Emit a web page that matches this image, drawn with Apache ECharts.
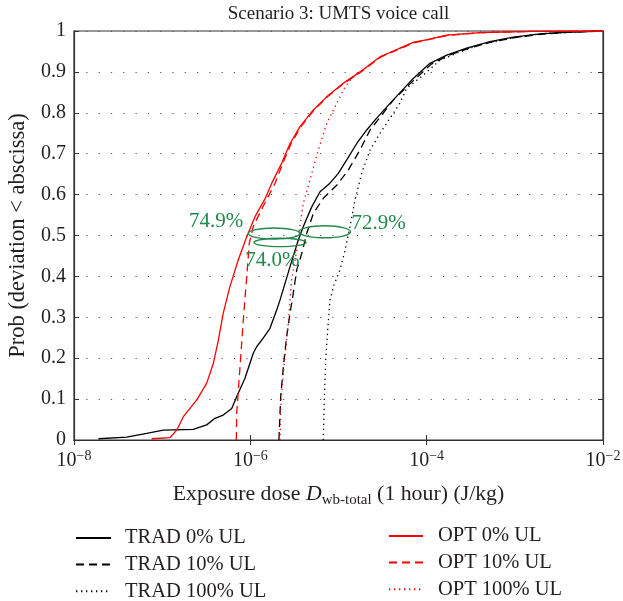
<!DOCTYPE html>
<html>
<head>
<meta charset="utf-8">
<script src="https://cdn.jsdelivr.net/npm/echarts@6/dist/echarts.min.js"></script>
<style>
html,body{margin:0;padding:0;background:#fff;}
#chart{width:623px;height:601px;}
</style>
</head>
<body>
<div id="chart"></div>
<script>
// ---- data: [exposure dose (J/kg), cumulative probability] ----
const trad0 = [[1.89e-8,0.003],[3.96e-8,0.007],[6.68e-8,0.016],[1.03e-7,0.024],[2.25e-7,0.026],[3.20e-7,0.037],[3.97e-7,0.053],[4.93e-7,0.061],[6.15e-7,0.077],[7.0e-7,0.106],[8.69e-7,0.151],[1.08e-6,0.212],[1.18e-6,0.228],[1.40e-6,0.249],[1.67e-6,0.273],[1.99e-6,0.318],[2.17e-6,0.342],[2.82e-6,0.424],[3.50e-6,0.489],[3.99e-6,0.522],[4.97e-6,0.570],[6.17e-6,0.607],[8.0e-6,0.628],[9.95e-6,0.652],[1.24e-5,0.685],[1.61e-5,0.725],[2.09e-5,0.758],[2.71e-5,0.787],[3.84e-5,0.823],[6.76e-5,0.880],[1.09e-4,0.921],[1.69e-4,0.941],[2.84e-4,0.958],[5.22e-4,0.974],[9.6e-4,0.985],[1.93e-3,0.993],[3.87e-3,0.997],[1e-2,1.0]];
const trad10 = [[2.11e-6,0],[2.21e-6,0.106],[2.37e-6,0.179],[2.58e-6,0.253],[2.82e-6,0.310],[3.07e-6,0.359],[3.36e-6,0.416],[3.83e-6,0.456],[4.36e-6,0.505],[5.18e-6,0.554],[6.73e-6,0.591],[9.55e-6,0.623],[1.29e-5,0.660],[1.75e-5,0.709],[2.28e-5,0.758],[3.22e-5,0.799],[4.18e-5,0.831],[7.0e-5,0.878],[1.13e-4,0.919],[1.75e-4,0.940],[2.95e-4,0.957],[5.4e-4,0.973],[1.0e-3,0.984],[2.0e-3,0.992],[4.0e-3,0.997],[1e-2,1.0]];
const trad100 = [[6.72e-6,0],[6.90e-6,0.098],[7.16e-6,0.196],[7.54e-6,0.269],[8.0e-6,0.342],[8.89e-6,0.379],[1.04e-5,0.416],[1.19e-5,0.465],[1.35e-5,0.522],[1.54e-5,0.587],[1.83e-5,0.652],[2.28e-5,0.709],[2.96e-5,0.750],[4.18e-5,0.799],[4.98e-5,0.824],[5.93e-5,0.860],[9.16e-5,0.892],[1.42e-4,0.929],[2.39e-4,0.949],[4.03e-4,0.966],[9.53e-4,0.983],[1.93e-3,0.993],[3.9e-3,0.997],[1e-2,1.0]];
const opt0 = [[7.6e-8,0.003],[1.23e-7,0.006],[1.46e-7,0.024],[1.74e-7,0.057],[2.47e-7,0.098],[3.20e-7,0.139],[3.80e-7,0.187],[4.34e-7,0.244],[4.93e-7,0.310],[5.87e-7,0.375],[7.29e-7,0.440],[9.1e-7,0.497],[1.13e-6,0.546],[1.47e-6,0.590],[1.75e-6,0.628],[2.27e-6,0.677],[2.82e-6,0.725],[3.66e-6,0.766],[5.18e-6,0.807],[7.35e-6,0.839],[1.13e-5,0.872],[1.75e-5,0.900],[2.96e-5,0.937],[7.05e-5,0.972],[1.09e-4,0.980],[1.69e-4,0.990],[4.03e-4,0.996],[1.49e-3,0.999],[1e-2,1.0]];
const opt10 = [[6.94e-7,0],[7.0e-7,0.065],[7.64e-7,0.179],[8.32e-7,0.293],[9.1e-7,0.399],[9.73e-7,0.481],[1.08e-6,0.522],[1.35e-6,0.565],[1.55e-6,0.590],[1.91e-6,0.628],[2.34e-6,0.677],[2.9e-6,0.725],[3.75e-6,0.766],[5.3e-6,0.807],[7.5e-6,0.839],[1.15e-5,0.872],[1.8e-5,0.900],[3.0e-5,0.936],[7.1e-5,0.971],[1.1e-4,0.980],[1.7e-4,0.989],[4.1e-4,0.996],[1.5e-3,0.999],[1e-2,1.0]];
const opt100 = [[2.17e-6,0],[2.23e-6,0.098],[2.37e-6,0.163],[2.47e-6,0.204],[2.65e-6,0.269],[2.82e-6,0.342],[2.94e-6,0.391],[3.36e-6,0.465],[3.56e-6,0.506],[3.83e-6,0.554],[3.99e-6,0.579],[4.75e-6,0.636],[5.90e-6,0.709],[7.35e-6,0.774],[9.55e-6,0.823],[1.19e-5,0.864],[1.42e-5,0.885],[1.8e-5,0.901],[3.0e-5,0.937],[7.05e-5,0.972],[1.1e-4,0.980],[1.7e-4,0.990],[4.0e-4,0.996],[1.5e-3,0.999],[1e-2,1.0]];

const seriesNames = ['TRAD 0% UL','TRAD 10% UL','TRAD 100% UL','OPT 0% UL','OPT 10% UL','OPT 100% UL'];

// annotations: dose reduction ellipses at ~50th percentile
const annotLeft = [9.48e-7, 1.10e-6, 3.56e-6];
const annotRight = [3.66e-6, 4.28e-6, 1.37e-5];
const annotProb = [0.505, 0.483, 0.509];
const annotLabel = ['74.9%', '74.0%', '72.9%'];

// tick labels
const xTickValues = [1e-8, 1e-6, 1e-4, 1e-2];
const xTickSup = ['\u22128', '\u22126', '\u22124', '\u22122'];
const yTickLabels = ['0','0.1','0.2','0.3','0.4','0.5','0.6','0.7','0.8','0.9','1'];

const FONT = '"Liberation Serif", "DejaVu Serif", serif';
const TXT = '#231f20';
const GREEN = '#1f8a4a';

const chart = echarts.init(document.getElementById('chart'), null, {renderer: 'canvas'});

function lineSeries(name, data, color, type) {
  return {
    name: name, type: 'line', data: data, symbol: 'none', showSymbol: false,
    xAxisIndex: 0, yAxisIndex: 0, clip: true, silent: true,
    lineStyle: {color: color, width: 1.3, type: type},
    itemStyle: {color: color}
  };
}

const ellipseRy = [5.5, 4.2, 6];
const annotData = annotLeft.map((l, i) => [l, annotRight[i], annotProb[i], i]);

function renderAnnot(params, api) {
  const i = api.value(3);
  const p1 = api.coord([api.value(0), api.value(2)]);
  const p2 = api.coord([api.value(1), api.value(2)]);
  const cx = (p1[0] + p2[0]) / 2, cy = p1[1];
  const rx = (p2[0] - p1[0]) / 2, ry = ellipseRy[i];
  let tx, ty, align;
  if (i === 0) { tx = p1[0] - 5; ty = cy - 12; align = 'right'; }
  else if (i === 1) { tx = cx - 7.5; ty = cy + 18.5; align = 'center'; }
  else { tx = p2[0] + 1; ty = cy - 8.7; align = 'left'; }
  return {
    type: 'group',
    children: [
      {type: 'ellipse', shape: {cx: cx, cy: cy, rx: rx, ry: ry},
       style: {fill: 'none', stroke: GREEN, lineWidth: 1.4}},
      {type: 'text', x: tx, y: ty,
       style: {text: annotLabel[i], fill: GREEN, font: '21px ' + FONT,
               textAlign: align, textVerticalAlign: 'middle'}}
    ]
  };
}

const xLabelFmt = function (v) {
  let k = -1;
  xTickValues.forEach((t, j) => { if (Math.abs(Math.log10(v) - Math.log10(t)) < 0.01) k = j; });
  if (k < 0) return '';
  return '{b|10}{s|' + xTickSup[k] + '}';
};

const legendCommon = {
  orient: 'vertical', itemHeight: 18, itemGap: 5.6, padding: 0, selectedMode: false,
  itemStyle: {opacity: 0}, height: 80
};

const option = {
  animation: false,
  backgroundColor: '#fff',
  textStyle: {fontFamily: FONT, color: TXT},
  grid: {left: 74, top: 31, right: 20, bottom: 161, containLabel: false, outerBoundsMode: 'none',
         show: true, borderColor: '#333', borderWidth: 1.2, backgroundColor: 'transparent'},
  graphic: [
    {type: 'text', x: 338.5, y: 14, style: {text: 'Scenario 3: UMTS voice call', fill: TXT, font: '19px ' + FONT, textAlign: 'center', textVerticalAlign: 'middle'}}
  ],
  legend: [
    Object.assign({}, legendCommon, {data: seriesNames.slice(0, 3), left: 75, top: 527.5, itemWidth: 35,
     textStyle: {fontFamily: FONT, fontSize: 20.5, color: TXT, lineHeight: 18, padding: [0, 0, 0, 9]}}),
    Object.assign({}, legendCommon, {data: seriesNames.slice(3), left: 388, top: 525.5, itemWidth: 34,
     textStyle: {fontFamily: FONT, fontSize: 20.5, color: TXT, lineHeight: 18, padding: [0, 0, 0, 10]}})
  ],
  xAxis: [
    {type: 'log', logBase: 10, min: 1e-8, max: 1e-2, position: 'bottom',
     axisLine: {show: true, lineStyle: {color: '#333', width: 1.2}},
     axisTick: {show: true, inside: true, length: 5, lineStyle: {color: '#333'}, customValues: xTickValues},
     minorTick: {show: false}, splitLine: {show: false},
     axisLabel: {margin: 9, formatter: xLabelFmt, color: TXT, customValues: xTickValues,
       rich: {b: {fontFamily: FONT, fontSize: 20, lineHeight: 24, color: TXT},
              s: {fontFamily: FONT, fontSize: 14, lineHeight: 24, verticalAlign: 'top', color: TXT}}},
     name: 'Exposure dose {i|D}{sub|wb-total} (1 hour) (J/kg)', nameLocation: 'middle', nameGap: 41,
     nameTextStyle: {fontFamily: FONT, fontSize: 21.8, color: TXT, lineHeight: 27,
       rich: {i: {fontFamily: FONT, fontStyle: 'italic', fontSize: 21.8, lineHeight: 27, color: TXT},
              sub: {fontFamily: FONT, fontSize: 15, lineHeight: 27, verticalAlign: 'bottom', color: TXT}}}},
    {type: 'log', logBase: 10, min: 1e-8, max: 1e-2, position: 'top',
     axisLine: {show: true, lineStyle: {color: '#333', width: 1.2}},
     axisTick: {show: true, inside: true, length: 5, lineStyle: {color: '#333'}, customValues: xTickValues},
     minorTick: {show: false}, splitLine: {show: false}, axisLabel: {show: false}}
  ],
  yAxis: [
    {type: 'value', min: 0, max: 1, interval: 0.1, position: 'left',
     axisLine: {show: true, lineStyle: {color: '#333', width: 1.2}},
     axisTick: {show: true, inside: true, length: 5, lineStyle: {color: '#333'}},
     splitLine: {show: true, lineStyle: {color: '#555', width: 1.2, type: [1.2, 11.1]}},
     axisLabel: {margin: 8, fontFamily: FONT, fontSize: 20, color: TXT,
       formatter: v => yTickLabels[Math.round(v * 10)]},
     name: 'Prob (deviation < abscissa)', nameLocation: 'middle', nameGap: 44, nameRotate: 90,
     nameTextStyle: {fontFamily: FONT, fontSize: 22.5, color: TXT}},
    {type: 'value', min: 0, max: 1, interval: 0.1, position: 'right',
     axisLine: {show: true, lineStyle: {color: '#333', width: 1.2}},
     axisTick: {show: true, inside: true, length: 5, lineStyle: {color: '#333'}},
     splitLine: {show: false}, axisLabel: {show: false}}
  ],
  series: [
    lineSeries(seriesNames[0], trad0, '#000000', 'solid'),
    lineSeries(seriesNames[1], trad10, '#000000', [8, 5]),
    lineSeries(seriesNames[2], trad100, '#000000', [1.3, 3.7]),
    lineSeries(seriesNames[3], opt0, '#ff0000', 'solid'),
    lineSeries(seriesNames[4], opt10, '#ff0000', [8, 5]),
    lineSeries(seriesNames[5], opt100, '#ff0000', [1.3, 3.7]),
    {type: 'custom', name: 'annotations', xAxisIndex: 0, yAxisIndex: 0, data: annotData,
     renderItem: renderAnnot, clip: false, silent: true, z: 5}
  ]
};
chart.setOption(option);
</script>
</body>
</html>
